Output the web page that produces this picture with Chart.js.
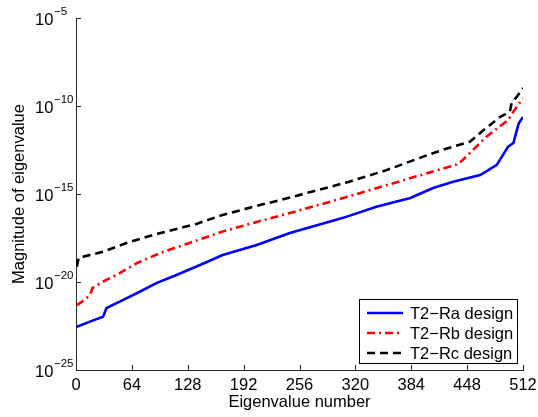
<!DOCTYPE html>
<html>
<head>
<meta charset="utf-8">
<script src="https://cdn.jsdelivr.net/npm/chart.js@4"></script>
<style>
  body { margin: 0; background: #fff; }
  #chart { display: block; }
</style>
</head>
<body>
<canvas id="chart" width="538" height="417"></canvas>
<script>
// values (eigenvalue index, magnitude)
const xTicks = [0, 64, 128, 192, 256, 320, 384, 448, 512];
const yTicks = [1e-25, 1e-20, 1e-15, 1e-10, 1e-5];
const yTickExp = ["\u221225", "\u221220", "\u221215", "\u221210", "\u22125"];

const seriesNames = ["T2\u2212Ra design", "T2\u2212Rb design", "T2\u2212Rc design"];

const raIdx = [1, 16, 31, 35, 50, 73, 92, 115, 142, 168, 207, 245, 277, 306, 344, 383, 409, 432, 463, 482, 495, 501, 507, 512];
const raVal = [2.9e-23, 5.6e-23, 1.07e-22, 3.3e-22, 7.6e-22, 2.8e-21, 8.7e-21, 2.5e-20, 9.3e-20, 3.4e-19, 1.26e-18, 6.0e-18,
  1.74e-17, 4.4e-17, 1.9e-16, 5.9e-16, 2.2e-15, 5.0e-15, 1.2e-14, 4.5e-14, 4.9e-13, 7.9e-13, 1.0e-11, 2.4e-11];

const rbIdx = [1, 7, 16, 19, 31, 50, 70, 100, 123, 140, 168, 207, 245, 277, 306, 356, 403, 438, 451, 470, 495, 501, 512];
const rbVal = [4.9e-22, 7.6e-22, 1.8e-21, 4.6e-21, 1.05e-20, 3.2e-20, 1.2e-19, 5.2e-19, 1.26e-18, 2.45e-18, 7.4e-18, 2.6e-17,
  8.3e-17, 2.3e-16, 5.9e-16, 3.2e-15, 1.55e-14, 5e-14, 2.1e-13, 1.8e-12, 1.6e-11, 4.8e-11, 2.8e-10];

const rcIdx = [1, 3, 8, 31, 58, 88, 119, 138, 168, 207, 245, 270, 313, 356, 403, 420, 451, 463, 486, 497, 499, 505, 512];
const rcVal = [7.4e-20, 2.3e-19, 2.75e-19, 5.2e-19, 1.66e-18, 4.7e-18, 1.17e-17, 2.0e-17, 6.5e-17, 2.1e-16, 6.3e-16, 1.35e-15,
  5.0e-15, 2.3e-14, 1.66e-13, 3.2e-13, 9.3e-13, 2.95e-12, 2.45e-11, 4.8e-11, 1.5e-10, 3.4e-10, 1.05e-9];

const FONT = "'Liberation Sans', Arial, Helvetica, sans-serif";

function points(xs, ys) {
  return xs.map((x, i) => ({ x: x, y: ys[i] }));
}

// inward tick marks, 10^n labels and the boxed legend
const matlabAxes = {
  id: 'matlabAxes',
  afterDatasetsDraw(chart) {
    const ctx = chart.ctx;
    const area = chart.chartArea;
    const xs = chart.scales.x;
    const ys = chart.scales.y;

    ctx.save();
    ctx.strokeStyle = '#262626';
    ctx.lineWidth = 1;
    ctx.beginPath();
    xTicks.forEach(v => {
      const px = Math.round(xs.getPixelForValue(v)) + 0.5;
      ctx.moveTo(px, area.bottom);
      ctx.lineTo(px, area.bottom - 5);
    });
    yTicks.forEach(v => {
      const py = Math.round(ys.getPixelForValue(v)) + 0.5;
      ctx.moveTo(area.left, py);
      ctx.lineTo(area.left + 5, py);
    });
    ctx.stroke();

    // y tick labels as 10 with a raised exponent
    ctx.fillStyle = '#000';
    ctx.textBaseline = 'alphabetic';
    ctx.textAlign = 'left';
    yTicks.forEach((v, i) => {
      const py = ys.getPixelForValue(v);
      ctx.font = '16.5px ' + FONT;
      ctx.fillText('10', 35, py + 7);
      ctx.font = '11.5px ' + FONT;
      ctx.fillText(yTickExp[i], 54, py - 3);
    });

    // legend box in lower right corner
    const w = 158, h = 64;
    const bx = area.right - 6 - w;
    const by = area.bottom - 7 - h;
    ctx.fillStyle = '#fff';
    ctx.fillRect(bx, by, w, h);
    ctx.strokeStyle = '#000';
    ctx.lineWidth = 1;
    ctx.strokeRect(Math.round(bx) + 0.5, Math.round(by) + 0.5, w, h);

    ctx.font = '16.5px ' + FONT;
    ctx.textBaseline = 'middle';
    chart.data.datasets.forEach((ds, i) => {
      const ly = by + 14 + i * 20;
      ctx.save();
      ctx.strokeStyle = ds.borderColor;
      ctx.lineWidth = ds.borderWidth;
      ctx.setLineDash(ds.borderDash || []);
      ctx.beginPath();
      ctx.moveTo(bx + 8, ly);
      ctx.lineTo(bx + 44, ly);
      ctx.stroke();
      ctx.restore();
      ctx.fillStyle = '#000';
      ctx.fillText(ds.label, bx + 51, ly + 1);
    });
    ctx.restore();
  }
};

new Chart(document.getElementById('chart'), {
  type: 'line',
  data: {
    datasets: [
      {
        label: seriesNames[0],
        data: points(raIdx, raVal),
        borderColor: '#0000ff',
        borderWidth: 2.6,
        pointRadius: 0,
        fill: false
      },
      {
        label: seriesNames[1],
        data: points(rbIdx, rbVal),
        borderColor: '#ff0000',
        borderWidth: 2.6,
        borderDash: [8, 4, 2, 4],
        pointRadius: 0,
        fill: false
      },
      {
        label: seriesNames[2],
        data: points(rcIdx, rcVal),
        borderColor: '#000000',
        borderWidth: 2.6,
        borderDash: [8, 5],
        pointRadius: 0,
        fill: false
      }
    ]
  },
  options: {
    responsive: false,
    devicePixelRatio: 1,
    animation: false,
    layout: { padding: { top: 18, right: 15, left: 0, bottom: 0 } },
    plugins: {
      legend: { display: false },
      tooltip: { enabled: false }
    },
    scales: {
      x: {
        type: 'linear',
        min: 0,
        max: 512,
        afterBuildTicks: scale => { scale.ticks = xTicks.map(v => ({ value: v })); },
        afterFit: scale => {
          scale.height = 47;
          scale.paddingLeft = 0;
          scale.paddingRight = 0;
        },
        grid: { display: false, drawTicks: false },
        border: { display: true, color: '#262626', width: 1 },
        ticks: {
          padding: 6,
          maxRotation: 0,
          color: '#000',
          font: { family: FONT, size: 16.5 }
        },
        title: {
          display: true,
          text: 'Eigenvalue number',
          color: '#000',
          font: { family: FONT, size: 16.5 },
          padding: { top: 0, bottom: 5 }
        }
      },
      y: {
        type: 'logarithmic',
        min: 1e-25,
        max: 1e-5,
        afterBuildTicks: scale => { scale.ticks = yTicks.map(v => ({ value: v })); },
        afterFit: scale => { scale.width = 76; },
        grid: { display: false, drawTicks: false },
        border: { display: true, color: '#262626', width: 1 },
        ticks: { display: false },
        title: {
          display: true,
          text: 'Magnitude of eigenvalue',
          color: '#000',
          font: { family: FONT, size: 16.5 },
          padding: { top: 10, bottom: 0 }
        }
      }
    }
  },
  plugins: [matlabAxes]
});
</script>
</body>
</html>
